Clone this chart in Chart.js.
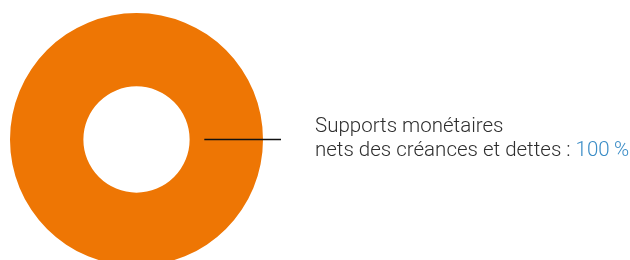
<!DOCTYPE html>
<html>
<head>
<meta charset="utf-8">
<script src="https://cdn.jsdelivr.net/npm/chart.js@4/dist/chart.umd.min.js"></script>
<style>
  html, body { margin: 0; padding: 0; background: #fff; overflow: hidden; }
  #wrap { width: 630px; height: 280px; }
</style>
</head>
<body>
<div id="wrap"><canvas id="donut" width="630" height="280"></canvas></div>
<script>
// categories and values
var categories = ["Supports monétaires nets des créances et dettes"];
var labelLines = [["Supports monétaires", "nets des créances et dettes : "]];
var values = [100];
var sliceColors = ["#ee7604"];

// leader line + label drawn next to the ring
var leaderLabel = {
  id: "leaderLabel",
  afterDraw: function (chart) {
    var ctx = chart.ctx;
    var arc = chart.getDatasetMeta(0).data[0];
    var cx = arc.x, cy = arc.y;
    var x0 = cx + arc.innerRadius + (arc.outerRadius - arc.innerRadius) * 0.2;
    var x1 = cx + arc.outerRadius + 18;
    ctx.save();
    ctx.strokeStyle = "#111";
    ctx.lineWidth = 1.5;
    ctx.beginPath();
    ctx.moveTo(x0, cy);
    ctx.lineTo(x1, cy);
    ctx.stroke();

    var tx = 315;
    ctx.font = "300 20.5px Roboto";
    ctx.textBaseline = "alphabetic";
    ctx.fillStyle = "#2e2e2e";
    var lines = labelLines[0];
    ctx.fillText(lines[0], tx, cy - 8);
    ctx.fillText(lines[1], tx, cy + 16);
    var w = ctx.measureText(lines[1]).width;
    ctx.fillStyle = "#3a8cc6";
    ctx.fillText(values[0] + "\u2009%", tx + w, cy + 16);
    ctx.restore();
  }
};

new Chart("donut", {
  type: "doughnut",
  data: {
    labels: categories,
    datasets: [{
      data: values,
      backgroundColor: sliceColors,
      borderWidth: 0
    }]
  },
  options: {
    responsive: false,
    animation: false,
    cutout: "42%",
    events: [],
    layout: {
      padding: { left: 10, top: 13, right: 367, bottom: 14 }
    },
    plugins: {
      legend: { display: false },
      tooltip: { enabled: false }
    }
  },
  plugins: [leaderLabel]
});
</script>
</body>
</html>
